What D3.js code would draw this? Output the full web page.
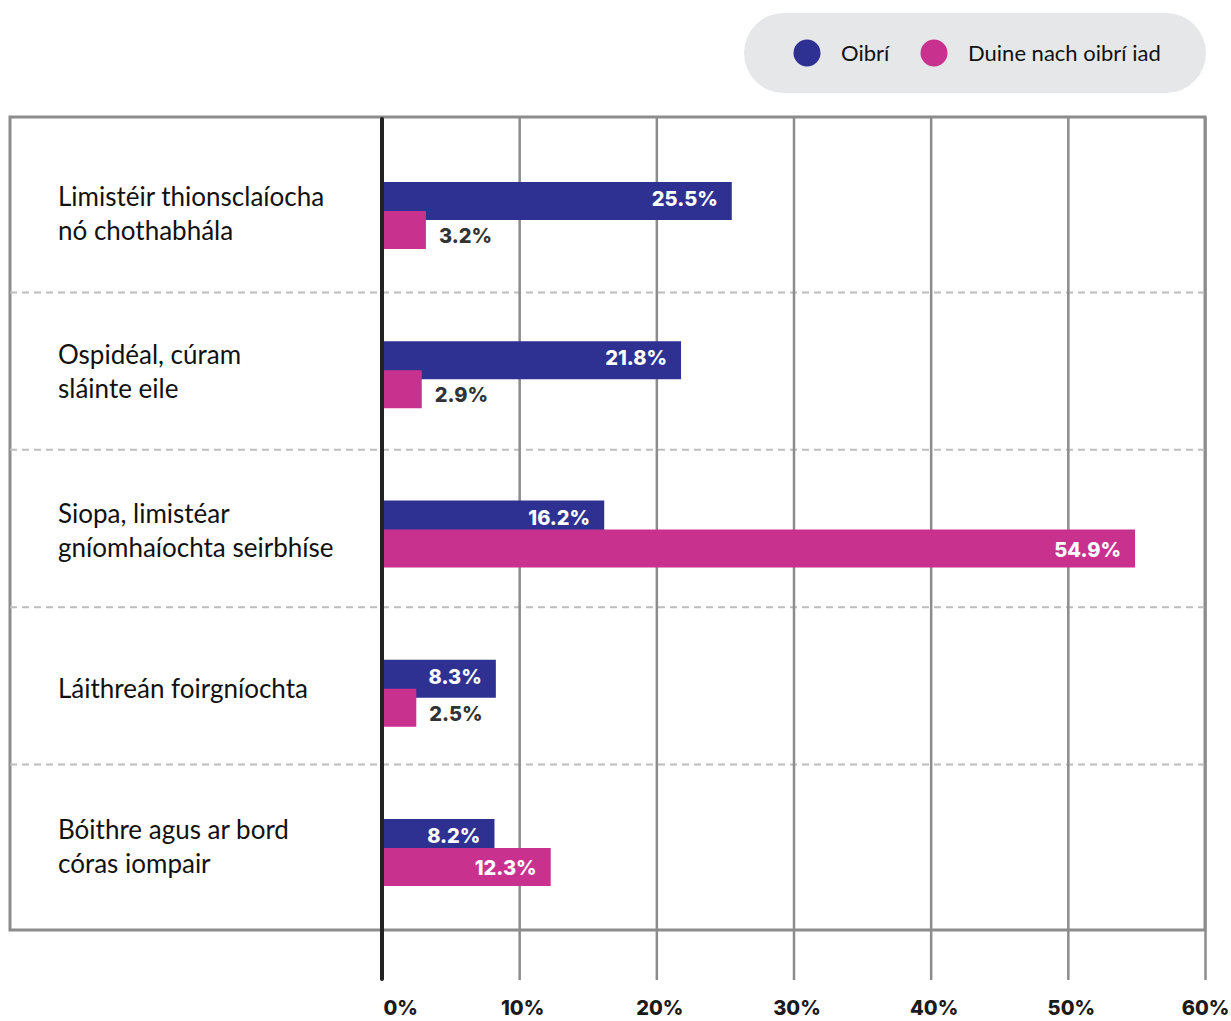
<!DOCTYPE html>
<html>
<head>
<meta charset="utf-8">
<script src="https://cdn.jsdelivr.net/npm/d3@7"></script>
<style>
  html, body { margin: 0; padding: 0; background: #ffffff; }
  svg { display: block; }
</style>
</head>
<body>
<svg id="chart" width="1231" height="1021"></svg>
<script>
// Categories (two-line labels where the text wraps)
const categories = [
  ["Limistéir thionsclaíocha", "nó chothabhála"],
  ["Ospidéal, cúram", "sláinte eile"],
  ["Siopa, limistéar", "gníomhaíochta seirbhíse"],
  ["Láithreán foirgníochta"],
  ["Bóithre agus ar bord", "córas iompair"]
];
const seriesNames = ["Oibrí", "Duine nach oibrí iad"];
const workers = [25.5, 21.8, 16.2, 8.3, 8.2];
const nonWorkers = [3.2, 2.9, 54.9, 2.5, 12.3];
const tickValues = [0, 10, 20, 30, 40, 50, 60];

const colors = ["#2e3192", "#c9318f"];
const labelFont = "'Lato', 'Noto Sans', sans-serif";
const valueFont = "'Inter', 'Noto Sans', sans-serif";

const svg = d3.select("#chart");

const frame = { left: 10, right: 1205, top: 117, bottom: 930 };
const idx = d3.range(categories.length);
const x = d3.scaleLinear().domain([0, 60]).range([382, 1205]);
// Row bands (separators), bar group centres and label centres
const y = d3.scaleBand().domain(idx).range([135, 922]);
const yBar = d3.scalePoint().domain(idx).range([215.5, 852.5]);
const yLabel = d3.scalePoint().domain(idx).range([214, 847]);

// Outer frame
svg.append("rect")
  .attr("x", frame.left).attr("y", frame.top)
  .attr("width", frame.right - frame.left)
  .attr("height", frame.bottom - frame.top)
  .attr("fill", "none").attr("stroke", "#8c8c8c").attr("stroke-width", 3);

// Dashed separators between categories
svg.append("g").selectAll("line")
  .data(d3.range(1, categories.length))
  .join("line")
  .attr("x1", frame.left).attr("x2", frame.right)
  .attr("y1", i => y(i)).attr("y2", i => y(i))
  .attr("stroke", "#bdbdbd").attr("stroke-width", 2)
  .attr("stroke-dasharray", "7,5");

// Vertical gridlines + tick labels via a bottom axis
const axis = d3.axisBottom(x)
  .tickValues(tickValues)
  .tickFormat(d => d + "%")
  .tickSize(0);
const axisG = svg.append("g").attr("transform", "translate(0,980)").call(axis);
axisG.select(".domain").remove();
axisG.selectAll(".tick text")
  .attr("y", 28)
  .attr("dy", "0.35em")
  .attr("dx", d => d === 0 ? 1 : (d === 60 ? 0 : 3))
  .attr("text-anchor", d => d === 0 ? "start" : "middle")
  .attr("font-family", valueFont)
  .attr("font-weight", 800)
  .attr("font-size", 20)
  .attr("fill", "#1a1a1a");
axisG.selectAll(".tick").filter(d => d !== 0)
  .append("line")
  .attr("y1", frame.top - 980).attr("y2", 0)
  .attr("stroke", "#8c8c8c").attr("stroke-width", 2.5);

// Bars
const barH = 38;
const group = svg.append("g");
const rows = idx.map(i => ({ i, values: [workers[i], nonWorkers[i]] }));
const barTop = (i, s) => yBar(i) + (s === 0 ? -33.5 : -4.5);

rows.forEach(r => {
  r.values.forEach((v, s) => {
    group.append("rect")
      .attr("x", x(0)).attr("y", barTop(r.i, s))
      .attr("width", x(v) - x(0)).attr("height", barH)
      .attr("fill", colors[s]);
  });
});

// Value labels: inside (white) when the bar is long enough, otherwise outside
rows.forEach(r => {
  r.values.forEach((v, s) => {
    const w = x(v) - x(0);
    const inside = w > 90;
    const off = s === 0 ? 17 : (inside ? 20 : 25);
    svg.append("text")
      .attr("x", inside ? x(v) - 14 : x(v) + 13)
      .attr("y", barTop(r.i, s) + off)
      .attr("dy", "0.35em")
      .attr("text-anchor", inside ? "end" : "start")
      .attr("font-family", valueFont)
      .attr("font-weight", 800)
      .attr("font-size", 20)
      .attr("fill", inside ? "#ffffff" : "#333333")
      .text(v.toFixed(1) + "%");
  });
});

// Zero baseline
svg.append("line")
  .attr("x1", x(0)).attr("x2", x(0))
  .attr("y1", frame.top + 2).attr("y2", 979)
  .attr("stroke", "#222222").attr("stroke-width", 4)
  .attr("stroke-linecap", "round");

// Category labels
categories.forEach((lines, i) => {
  const lh = 34;
  const c = yLabel(i);
  const t = svg.append("text")
    .attr("font-family", labelFont)
    .attr("font-size", 26)
    .attr("fill", "#111111");
  lines.forEach((ln, k) => {
    t.append("tspan")
      .attr("x", 58)
      .attr("y", c + (k - (lines.length - 1) / 2) * lh)
      .attr("dy", "0.35em")
      .text(ln);
  });
});

// Legend
const legend = svg.append("g");
legend.append("rect")
  .attr("x", 744).attr("y", 13).attr("width", 462).attr("height", 80)
  .attr("rx", 40).attr("fill", "#e6e7e8");
const legendX = [807, 934];
seriesNames.forEach((name, s) => {
  legend.append("circle")
    .attr("cx", legendX[s]).attr("cy", 53).attr("r", 13.5)
    .attr("fill", colors[s]);
  legend.append("text")
    .attr("x", legendX[s] + 34).attr("y", 53).attr("dy", "0.35em")
    .attr("font-family", labelFont).attr("font-size", 22)
    .attr("fill", "#111111")
    .text(name);
});
</script>
</body>
</html>
